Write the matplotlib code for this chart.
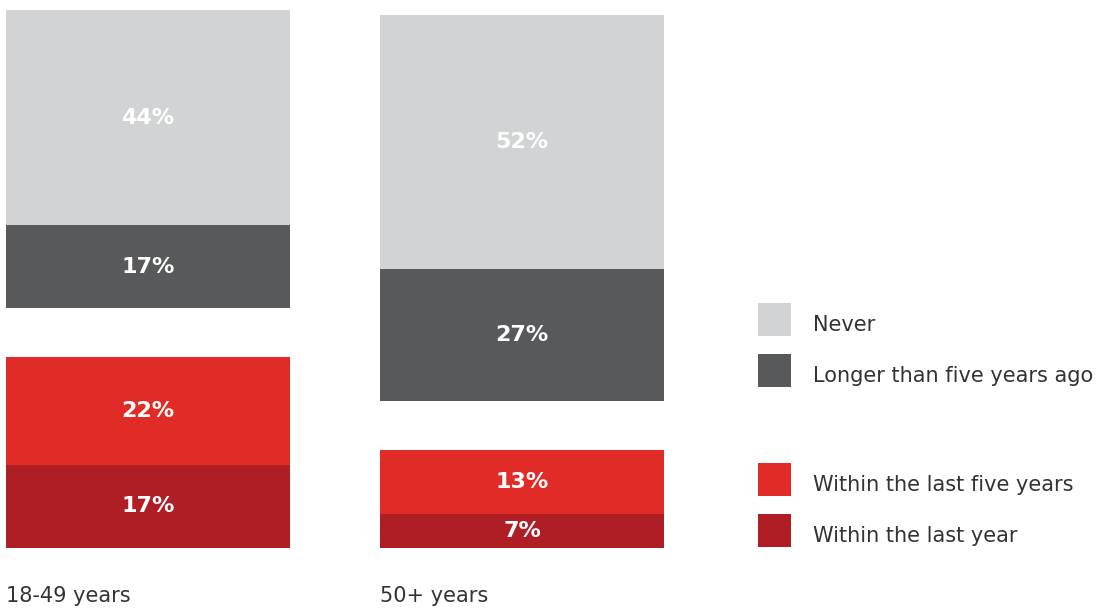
import numpy as np
import matplotlib
matplotlib.use('Agg')
import matplotlib.pyplot as plt
from matplotlib.patches import Patch

# survey shares (%) by age group
groups = ['18-49 years', '50+ years']
within_year = [17, 7]
within_five = [22, 13]
longer_ago = [17, 27]
never = [44, 52]

labels = ['Never', 'Longer than five years ago',
          'Within the last five years', 'Within the last year']
colors = ['#D1D3D4', '#58595B', '#E12B26', '#AF1E25']

gap = 10  # blank space between the red and grey blocks
bar_w = 0.76

plt.rcParams['font.family'] = ['DejaVu Sans']

fig = plt.figure(figsize=(11.07, 6.10), dpi=100)
ax = fig.add_axes([0, 62 / 610, 1, 548 / 610])
ax.set_xlim(-148 / 374, (1107 - 148) / 374)
ax.set_ylim(0, 548 / 4.89)
ax.axis('off')

x = np.arange(len(groups))
within_year = np.array(within_year)
within_five = np.array(within_five)
longer_ago = np.array(longer_ago)
never = np.array(never)

bottoms = [np.zeros(len(groups)), within_year,
           within_year + within_five + gap,
           within_year + within_five + gap + longer_ago]
series = [within_year, within_five, longer_ago, never]
series_colors = [colors[3], colors[2], colors[1], colors[0]]

for vals, bot, col in zip(series, bottoms, series_colors):
    ax.bar(x, vals, bottom=bot, width=bar_w, color=col, linewidth=0)
    for xi, v, b in zip(x, vals, bot):
        ax.text(xi, b + v / 2, f'{v}%', ha='center', va='center',
                color='white', fontsize=16, fontweight='bold')

for xi, g in zip(x, groups):
    ax.text(xi - bar_w / 2, -9.8, g, ha='left', va='center',
            fontsize=15, color='#333333', clip_on=False)

leg_kw = dict(frameon=False, fontsize=15, handlelength=1.584, handleheight=2.06,
              labelspacing=0.864, handletextpad=1.056, borderpad=0,
              borderaxespad=0, labelcolor='#333333')
h = [Patch(facecolor=c, linewidth=0) for c in colors]
leg1 = ax.legend(h[:2], labels[:2], loc='upper left',
                 bbox_to_anchor=(758 / 1107, 1 - 303 / 548), **leg_kw)
ax.add_artist(leg1)
leg2 = ax.legend(h[2:], labels[2:], loc='upper left',
                 bbox_to_anchor=(758 / 1107, 1 - 463 / 548), **leg_kw)
# labels sit a little below the middle of their swatches
for leg in (leg1, leg2):
    for t in leg.get_texts():
        t.set_y(-5)

fig.savefig('out.png', dpi=100)
